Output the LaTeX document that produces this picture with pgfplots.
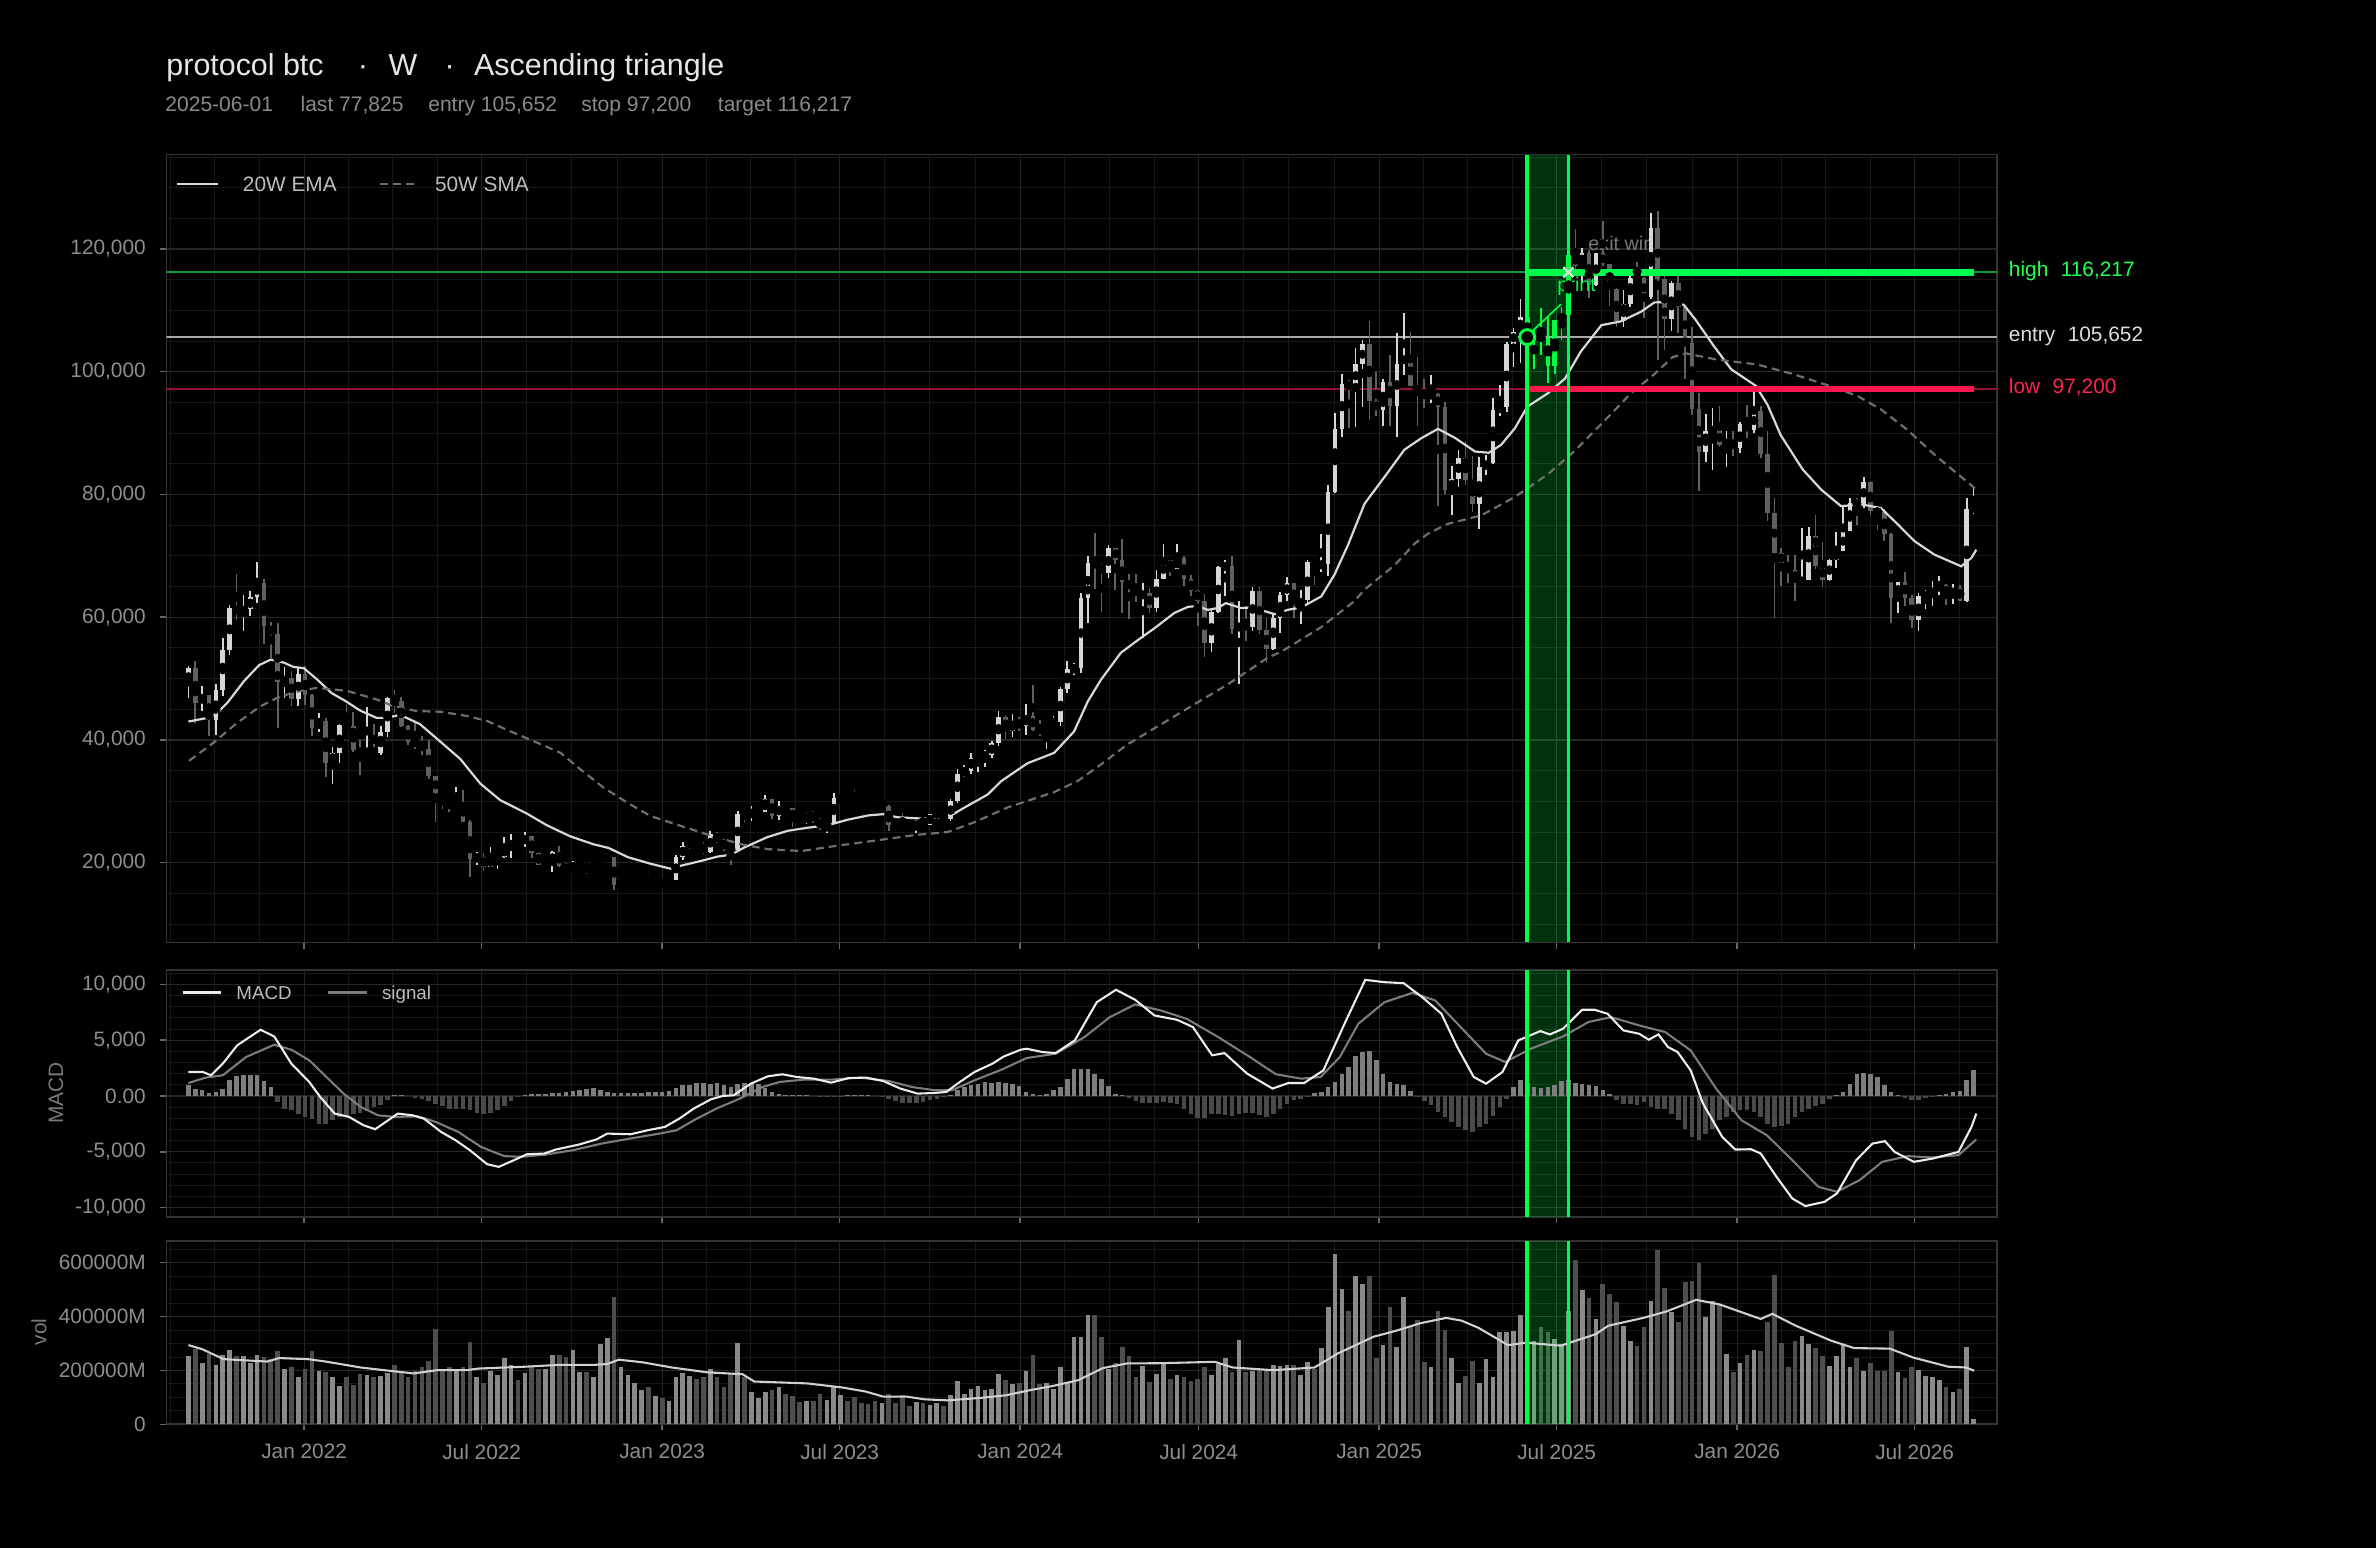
\documentclass[border=0pt]{standalone}
\usepackage{fontspec}
\setmainfont{Liberation Sans}
\usepackage{pgfplots}
\usepackage{pgfplotstable}
\pgfplotsset{compat=1.18}
\newcommand\fs[1]{\fontsize{#1}{#1}\selectfont}
\definecolor{upc}{HTML}{D6D6D6}
\definecolor{dnc}{HTML}{606060}
\definecolor{grn}{HTML}{00FF44}
\definecolor{hithin}{HTML}{0E9A38}
\definecolor{lothin}{HTML}{940F31}
\definecolor{hithick}{HTML}{00FF4C}
\definecolor{lothick}{HTML}{F5184C}
\definecolor{entryc}{HTML}{A8A8A8}
\definecolor{emac}{HTML}{D8D8D8}
\definecolor{smac}{HTML}{6E6E6E}
\definecolor{macdc}{HTML}{EDEDED}
\definecolor{sigc}{HTML}{7C7C7C}
\definecolor{hpos}{HTML}{7E7E7E}
\definecolor{hneg}{HTML}{4A4A4A}
\definecolor{vup}{HTML}{8A8A8A}
\definecolor{vdn}{HTML}{4E4E4E}
\definecolor{vmac}{HTML}{D0D0D0}
\definecolor{gridmaj}{HTML}{262626}
\definecolor{gridmin}{HTML}{181818}
\definecolor{framec}{HTML}{333333}
\definecolor{tickc}{HTML}{666666}
\definecolor{labc}{HTML}{8E8E8E}
\definecolor{titlec}{HTML}{E6E6E6}
\definecolor{subc}{HTML}{8A8A8A}
\definecolor{legc}{HTML}{BDBDBD}
\definecolor{hilab}{HTML}{22FF55}
\definecolor{lolab}{HTML}{FF2250}
\definecolor{enlab}{HTML}{DDDDDD}
\definecolor{exitc}{HTML}{7A7A7A}
\definecolor{xmk}{HTML}{DDDDDD}

\pgfplotsset{
  panel/.style={
    scale only axis, width=878.6pt,
    xmin=-20.2, xmax=246.4,
    scaled y ticks=false, scaled x ticks=false,
    axis line style={draw=framec, line width=0.9pt},
    tick pos=left, tick align=outside,
    major tick length=2.9pt, minor tick length=0pt,
    tick style={draw=tickc, line width=0.7pt},
    grid=both,
    major grid style={draw=gridmaj, line width=0.55pt},
    minor grid style={draw=gridmin, line width=0.45pt},
    xtick={-0.143,25.714,52,77.857,104.143,130.143,156.429,182.286,208.571,234.429},
    minor xtick={-19.64,-13.14,-6.64,6.32,12.79,19.25,32.29,38.86,45.43,58.46,64.93,71.39,84.43,91.0,97.57,110.64,117.14,123.64,136.71,143.29,149.86,162.89,169.36,175.82,188.86,195.43,202.0,215.04,221.5,227.96,240.93},
    tick label style={font=\fs{10}, text=labc},
    yticklabel style={xshift=-3.5pt},
    xticklabel style={yshift=-3pt},
  },
  wick/.style={only marks, mark=none, error bars/.cd, y dir=both, y explicit, error mark=none,
    error bar style={draw=#1, line width=0.8pt}},
  body/.style={only marks, mark=none, error bars/.cd, y dir=both, y explicit, error mark=none,
    error bar style={draw=#1, line width=2.2pt}},
}
\tikzset{txt/.style={inner sep=0pt, outer sep=0pt, anchor=base west}}

% week index k: 0 = week ending Sun 2 Jan 2022; prices in thousands; v in 1000M
\pgfplotstableread{
k o h l c v m
-17 48.8 52.0 46.9 51.8 255 950
-16 51.8 52.9 42.8 46.0 279 650
-15 46.0 48.8 44.7 47.3 226 550
-14 47.3 47.4 40.6 43.2 261 300
-13 43.2 49.2 40.8 48.2 221 350
-12 48.2 56.6 47.1 54.7 258 650
-11 54.7 62.0 53.9 61.5 277 1400
-10 61.5 67.0 59.6 60.9 255 1750
-9 60.9 63.7 57.8 61.3 255 1850
-8 61.3 64.3 60.2 63.3 226 1850
-7 63.3 69.0 62.4 65.5 258 1900
-6 65.5 66.3 55.6 58.6 251 1300
-5 58.6 59.3 53.3 57.2 242 800
-4 57.2 59.0 42.0 49.4 273 -550
-3 49.4 51.9 46.8 50.1 206 -1150
-2 50.1 51.3 45.6 46.7 214 -1300
-1 46.7 51.9 45.6 50.8 174 -1600
0 50.8 52.0 45.7 47.3 204 -1900
1 47.3 47.5 40.6 41.9 273 -2050
2 41.9 44.4 41.3 43.1 199 -2500
3 43.1 43.5 34.0 36.3 196 -2500
4 36.3 38.9 32.9 37.9 176 -2150
5 37.9 42.6 36.2 42.4 143 -1900
6 42.4 45.8 41.7 42.2 176 -1750
7 42.2 44.5 38.0 38.4 145 -1650
8 38.4 40.0 34.3 37.7 186 -1550
9 37.7 45.4 37.5 38.4 184 -1350
10 38.4 42.6 37.6 37.8 174 -1000
11 37.8 42.3 37.6 41.3 180 -800
12 41.3 47.0 40.5 46.8 189 -400
13 46.8 48.2 44.4 46.4 221 100
14 46.4 47.0 42.1 42.2 189 100
15 42.2 42.4 39.2 39.7 174 0
16 39.7 42.9 38.6 39.4 199 -150
17 39.4 40.7 37.6 38.5 214 -300
18 38.5 40.0 33.7 34.1 236 -450
19 34.1 34.2 26.7 31.3 354 -700
20 31.3 31.4 28.7 30.3 199 -900
21 30.3 30.6 28.3 29.4 211 -1150
22 29.4 32.3 29.2 29.9 199 -1200
23 29.9 31.8 26.6 26.6 214 -1150
24 26.6 26.9 17.6 20.6 307 -1300
25 20.6 21.8 19.7 21.0 174 -1550
26 21.0 21.5 18.7 19.3 154 -1650
27 19.3 22.5 19.3 20.8 199 -1550
28 20.8 21.6 19.0 20.9 184 -1300
29 20.9 24.2 20.7 22.6 245 -900
30 22.6 24.6 20.7 23.3 221 -450
31 23.3 23.6 22.4 23.2 165 -100
32 23.2 25.0 22.6 24.3 190 100
33 24.3 24.4 20.8 21.5 214 150
34 21.5 21.8 19.6 19.6 205 200
35 19.6 20.5 19.5 19.8 207 200
36 19.8 21.9 18.5 21.8 257 250
37 21.8 22.7 19.3 19.4 257 300
38 19.4 19.9 18.3 18.8 251 350
39 18.8 20.2 18.5 19.0 277 450
40 19.0 20.5 19.0 19.4 195 500
41 19.4 19.9 18.2 19.3 195 650
42 19.3 19.7 18.9 19.6 174 700
43 19.6 21.0 19.5 20.6 298 500
44 20.6 21.5 20.1 21.0 319 350
45 21.0 21.0 15.6 16.3 472 300
46 16.3 17.2 16.1 16.3 211 250
47 16.3 16.7 15.5 16.5 184 250
48 16.5 17.4 16.1 17.1 152 250
49 17.1 17.4 16.9 17.1 128 300
50 17.1 18.4 16.6 16.8 139 350
51 16.8 17.0 16.3 16.8 106 350
52 16.8 16.9 16.4 16.6 96 350
53 16.6 17.2 16.5 17.1 87 400
54 17.1 21.2 17.1 20.9 174 700
55 20.9 23.3 20.4 22.7 189 950
56 22.7 23.8 22.3 23.7 178 1000
57 23.7 24.2 22.7 22.9 170 1150
58 22.9 23.3 21.4 21.8 174 1150
59 21.8 25.1 21.5 24.6 207 1100
60 24.6 25.0 23.2 23.5 176 1150
61 23.5 23.9 21.9 22.4 137 1000
62 22.4 22.6 19.6 22.1 186 800
63 22.1 28.4 21.9 28.0 303 1100
64 28.0 28.8 26.6 27.9 174 1200
65 27.9 29.2 26.8 28.2 120 1150
66 28.2 28.5 27.2 28.3 96 1100
67 28.3 31.0 28.2 30.3 120 750
68 30.3 30.4 27.1 27.6 129 350
69 27.6 30.0 27.0 29.3 137 150
70 29.3 29.8 28.4 28.9 112 50
71 28.9 28.9 25.8 26.9 106 100
72 26.9 27.5 26.1 26.8 84 100
73 26.8 28.2 26.3 28.1 87 50
74 28.1 28.4 26.5 27.1 87 0
75 27.1 27.3 25.4 25.8 112 -50
76 25.8 26.8 24.8 26.5 91 -100
77 26.5 31.4 26.3 30.5 137 -100
78 30.5 31.0 29.5 30.6 108 -50
79 30.6 31.4 29.8 30.3 87 50
80 30.3 31.8 29.9 30.2 102 100
81 30.2 30.4 29.5 29.9 79 100
82 29.9 29.9 28.9 29.3 75 50
83 29.3 29.9 28.7 29.1 87 0
84 29.1 30.2 28.9 29.3 81 -50
85 29.3 29.4 25.2 26.2 112 -250
86 26.2 26.6 25.8 26.0 81 -450
87 26.0 28.1 25.3 25.9 108 -600
88 25.9 26.0 25.4 25.8 68 -630
89 25.8 27.0 24.9 26.5 84 -600
90 26.5 27.4 26.0 26.2 79 -500
91 26.2 28.0 26.1 27.9 72 -380
92 27.9 28.5 27.3 27.9 81 -250
93 27.9 28.0 26.6 27.1 68 -100
94 27.1 30.4 26.8 30.0 109 100
95 30.0 35.2 29.8 34.5 161 550
96 34.5 35.9 33.9 35.0 112 800
97 35.0 37.9 34.5 37.1 133 950
98 37.1 37.9 34.8 37.4 143 1100
99 37.4 38.4 35.6 37.5 127 1250
100 37.5 39.9 37.1 39.5 132 1200
101 39.5 44.7 39.0 43.8 186 1250
102 43.8 44.0 40.2 41.4 164 1200
103 41.4 44.3 40.5 43.0 149 1050
104 43.0 43.8 41.4 42.3 153 900
105 42.3 45.9 40.8 43.9 199 350
106 43.9 49.0 41.5 41.7 257 200
107 41.7 43.2 40.6 41.6 149 100
108 41.6 42.2 38.5 42.0 154 200
109 42.0 43.9 41.9 43.0 133 500
110 43.0 48.6 42.2 48.3 211 800
111 48.3 52.8 47.7 51.6 155 1550
112 51.6 52.5 50.6 51.7 323 2400
113 51.7 64.0 50.9 63.1 323 2450
114 63.1 69.9 59.0 68.9 404 2450
115 68.9 73.8 64.6 68.4 404 2000
116 68.4 68.6 60.8 67.2 325 1550
117 67.2 71.8 66.4 71.3 205 870
118 71.3 71.3 64.5 69.4 227 200
119 69.4 72.8 60.7 65.7 288 50
120 65.7 67.0 59.7 64.9 255 -200
121 64.9 67.1 62.5 63.4 174 -450
122 63.4 65.5 56.6 63.9 217 -600
123 63.9 64.8 60.7 61.5 158 -630
124 61.5 67.7 60.9 66.3 186 -630
125 66.3 71.9 66.3 69.3 226 -540
126 69.3 69.4 66.7 67.8 170 -630
127 67.8 71.9 67.8 69.6 184 -740
128 69.6 70.0 65.1 66.2 174 -1130
129 66.2 66.9 63.4 64.3 161 -1640
130 64.3 64.5 58.5 62.7 170 -1940
131 62.7 63.8 53.5 55.8 211 -1940
132 55.8 61.2 54.3 60.8 184 -1640
133 60.8 68.4 60.7 68.2 224 -1580
134 68.2 69.4 63.4 68.3 248 -1730
135 68.3 70.0 57.2 58.1 193 -1820
136 58.1 62.7 49.1 58.7 314 -1640
137 58.7 61.8 56.2 58.4 193 -1520
138 58.4 65.0 57.8 64.2 199 -1520
139 64.2 64.9 57.2 58.0 202 -1730
140 58.0 59.8 52.6 54.8 201 -1880
141 54.8 60.6 54.6 59.9 221 -1580
142 59.9 64.1 57.5 63.6 217 -1130
143 63.6 66.5 62.7 65.6 220 -690
144 65.6 65.6 59.8 62.0 220 -390
145 62.0 64.4 58.9 62.8 184 -240
146 62.8 69.4 62.0 69.0 232 -50
147 69.0 69.5 65.3 68.4 205 270
148 68.4 73.6 67.4 68.7 282 360
149 68.7 81.5 66.8 80.4 435 800
150 80.4 93.3 80.3 90.6 631 1250
151 90.6 99.6 89.4 98.0 501 2000
152 98.0 98.7 90.8 97.5 419 2590
153 97.5 103.9 91.0 101.2 549 3550
154 101.2 105.1 94.3 104.5 519 3930
155 104.5 108.3 92.2 95.2 549 4020
156 95.2 99.9 92.8 93.7 248 3190
157 93.7 98.8 91.2 98.3 294 2000
158 98.3 102.7 91.2 94.5 437 1250
159 94.5 106.3 89.3 101.3 288 1100
160 101.3 109.6 99.5 102.6 472 950
161 102.6 106.5 97.7 97.7 360 450
162 97.7 102.4 91.2 96.5 388 -100
163 96.5 98.8 94.1 96.1 230 -450
164 96.1 99.5 94.9 96.3 211 -840
165 96.3 96.5 78.2 94.2 422 -1430
166 94.2 95.0 80.1 80.7 351 -1900
167 80.7 84.7 76.6 82.6 245 -2320
168 82.6 87.3 81.2 86.0 153 -2770
169 86.0 88.8 81.6 82.4 180 -3070
170 82.4 86.3 77.1 78.4 236 -3220
171 78.4 86.1 74.4 84.5 153 -2770
172 84.5 86.4 83.2 85.1 243 -2470
173 85.1 95.8 84.9 93.7 176 -1800
174 93.7 97.9 92.8 94.3 344 -980
175 94.3 104.9 93.4 104.6 344 -300
176 104.6 107.1 100.7 106.5 345 800
177 106.5 111.9 101.5 109.0 407 1400
178 109.0 110.6 103.1 105.6 311 1160
179 105.6 106.8 100.4 105.7 311 800
180 105.7 110.4 102.7 105.5 360 750
181 105.5 108.9 98.2 101.0 344 800
182 101.0 108.5 99.6 108.4 317 1000
183 108.4 110.5 105.1 109.2 298 1340
184 109.2 119.5 107.5 119.1 422 1460
185 119.1 123.2 115.7 117.3 609 1200
186 117.3 120.2 114.7 119.4 497 1040
187 119.4 119.8 112.0 114.2 468 950
188 114.2 119.4 114.0 119.3 391 860
189 119.3 124.5 117.2 117.5 519 500
190 117.5 117.6 110.7 113.5 482 210
191 113.5 113.6 107.3 108.2 453 -390
192 108.2 113.3 107.3 111.1 366 -690
193 111.1 116.8 110.6 115.3 308 -690
194 115.3 117.9 114.8 115.2 292 -830
195 115.2 115.5 108.7 112.2 360 -540
196 112.2 125.8 111.8 123.5 456 -980
197 123.5 126.2 102.0 115.1 646 -1130
198 115.1 116.0 103.5 108.6 507 -1130
199 108.6 114.8 106.7 114.5 415 -1600
200 114.5 116.4 106.3 110.6 379 -2180
201 110.6 110.8 98.9 104.7 528 -3000
202 104.7 107.3 93.0 94.0 532 -3670
203 94.0 96.6 80.6 86.9 600 -3960
204 86.9 93.1 85.3 90.4 400 -3370
205 90.4 94.1 84.0 90.5 456 -2920
206 90.5 94.5 87.7 88.1 441 -2120
207 88.1 90.3 84.5 88.6 261 -1880
208 88.6 90.3 86.3 87.6 196 -1430
209 87.6 91.8 86.8 91.5 229 -1280
210 91.5 94.6 89.2 90.5 257 -1280
211 90.5 97.4 90.0 93.6 276 -1430
212 93.6 94.5 86.0 86.6 271 -1880
213 86.6 90.3 75.6 77.0 381 -2470
214 77.0 79.4 59.9 70.4 553 -2770
215 70.4 71.3 65.1 68.9 302 -2710
216 68.9 70.1 65.6 67.7 214 -2470
217 67.7 70.1 62.6 65.8 311 -1880
218 65.8 74.6 65.7 66.0 328 -1430
219 66.0 74.7 66.0 73.3 298 -1130
220 73.3 76.7 67.9 68.4 283 -900
221 68.4 72.3 64.9 66.0 253 -690
222 66.0 69.5 65.9 69.3 217 -300
223 69.3 73.9 68.0 70.8 255 100
224 70.8 78.3 70.8 74.0 298 360
225 74.0 79.4 74.0 78.6 214 1100
226 78.6 79.4 75.1 78.4 248 2000
227 78.4 82.8 77.8 82.1 199 2060
228 82.1 82.2 76.7 77.3 226 2000
229 77.3 77.4 74.2 77.1 199 1700
230 77.1 77.6 72.5 73.6 199 950
231 73.6 73.8 59.0 63.2 348 360
232 63.2 65.8 60.7 65.8 195 100
233 65.8 67.3 61.8 63.1 173 -200
234 63.1 63.7 58.2 59.6 211 -390
235 59.6 64.0 57.8 63.4 201 -330
236 63.4 64.5 61.3 63.7 180 -180
237 63.7 65.9 61.8 64.5 176 -50
238 64.5 66.7 63.7 65.3 164 60
239 65.3 65.4 62.0 63.4 137 150
240 63.4 65.4 62.1 64.8 120 360
241 64.8 65.2 62.6 62.7 130 420
242 62.7 79.4 62.5 77.7 288 1400
243 77.7 81.2 76.9 77.825 19 2290
}\candles

\pgfplotstableread{
x y
-17 43.0
-14.2 43.6
-13 44.2
-11.3 46.1
-8.9 49.6
-6.7 52.2
-5 53.1
-3.1 52.6
-1.7 51.9
-0.2 51.7
1.7 49.9
3.9 47.6
5.8 46.4
8 44.8
10.4 43.6
11.9 43.6
13.8 44.1
16.7 42.6
19.2 40.2
22.6 36.9
25.5 32.9
28.4 30.2
32.3 28.0
35.2 26.1
38.6 24.3
42 23.0
44.2 22.4
47 20.9
50.4 19.8
53.3 19.0
54.7 19.5
57.7 20.3
60.1 21.0
62 21.3
64 22.5
67.4 24.2
70.3 25.2
73.2 25.7
76.1 26.1
79 27.0
82 27.7
84.1 27.9
86.3 27.4
89.7 27.2
93.6 27.4
95.6 28.7
97 29.6
99.4 31.1
101.4 33.3
105.2 36.2
109.1 37.9
112 41.4
114 46.3
115.9 49.8
118.8 54.2
121.8 56.7
123.7 58.2
126.6 60.7
128.6 61.7
130 61.8
131.5 61.2
132.9 61.5
134.1 62.3
136.3 61.5
138.3 61.6
139.7 61.0
141.2 60.5
143.1 61.2
145.1 61.6
148 63.4
149.9 66.9
151.9 71.8
154.3 78.5
157.3 83.0
160.1 87.3
162.6 89.2
165 90.7
167.5 89.2
170.4 87.0
172.4 86.8
174.2 88.1
176.2 90.8
178 94.3
181 96.5
183.5 98.9
185.8 103.3
188.8 107.6
191.6 108.2
194.6 109.8
196.5 111.3
199.4 111.4
200.8 110.9
202.5 108.5
205.1 104.3
207.7 100.4
211.3 97.7
213 94.6
214.9 89.7
218.1 84.1
220.8 80.8
223.7 78.1
226.6 78.4
229.5 77.8
232 75.1
234.4 72.4
237.3 70.2
241.2 68.3
242.7 69.7
243.4 71.0
}\ema

\pgfplotstableread{
x y
-16.9 36.6
-13.3 39.6
-9.9 42.8
-6.5 45.5
-3.6 47.1
-0.7 48.0
1.7 48.5
6.1 48.0
10.4 46.6
12.9 45.5
16.3 44.7
19.7 44.6
23.6 43.9
26.5 43.1
29.9 41.4
33.3 39.8
37.2 37.9
40.1 35.2
43.5 32.2
46.9 29.8
50.3 27.6
54.7 26.0
58.6 24.6
63.5 23.0
67.4 22.2
72.3 21.9
77.1 22.7
83 23.6
88.8 24.5
93.6 25.0
97.5 26.6
102.3 29.0
105 30.0
109.1 31.5
112.5 33.3
115.9 36.0
119.8 39.3
124.6 42.5
129.5 45.8
134.3 49.0
140.2 53.4
142.2 54.4
147 57.7
148 58.4
152.8 62.6
154.3 64.5
158.7 68.5
161.6 72.0
163.5 73.6
166.4 75.2
171.3 76.6
176.2 79.6
181 83.3
184.9 87.1
188.8 91.5
193.2 96.6
196.5 99.6
199.2 102.4
201.1 103.0
205.5 102.0
211.4 101.2
216.5 99.7
222.3 97.6
226.2 96.0
229.6 93.8
233.4 90.5
237.3 86.5
243.2 81.0
}\sma

\pgfplotstableread{
x y
-17 2150
-14.9 2150
-13.7 1850
-12 2890
-9.9 4530
-6.5 5930
-4.5 5330
-2 2890
0.6 1250
2.2 -90
4.3 -1580
6.4 -1880
8.5 -2620
10.2 -2980
11.4 -2470
13.5 -1580
15.6 -1730
17.3 -2030
19.8 -3220
21.9 -3960
24 -4860
26.5 -6110
28.2 -6350
30.2 -5810
32.3 -5220
34.8 -5160
36.5 -4800
39.9 -4350
42.4 -3900
44 -3370
47.4 -3430
49.9 -3070
52.4 -2770
54.5 -2030
56.6 -1130
59.1 -300
60.8 0
62.4 60
64.9 1100
67.4 1760
69.5 1940
71.6 1700
74.1 1550
76.6 1190
79.2 1610
81.7 1640
84.2 1340
86.7 660
89.2 210
91.7 270
93.4 360
95 1100
97.5 2150
100.1 2890
101.7 3520
104.2 4140
105.1 4230
107.4 3930
109.3 3840
112.1 4980
115.3 8400
118.1 9510
120.9 8610
123.7 7210
127 6820
129.3 6170
132.1 3640
133.9 3840
137.2 2000
140.9 660
143.2 1160
145.5 1160
148.3 2290
151.6 6760
154.4 10400
157.2 10190
160 10100
162.7 8850
165.5 7360
167.8 4380
170.2 1700
172 1100
174.4 2150
176.7 4980
179.9 5810
181.3 5510
183.2 6020
186 7720
187.8 7720
189.7 7360
192 5870
194.3 5570
195.7 5040
197.1 5510
198.5 4380
199.9 3930
201.8 2290
203.6 -690
206.4 -3670
208.3 -4800
210.6 -4770
212 -5160
214.3 -7240
216.6 -9180
218.5 -9860
221.3 -9480
223.1 -8730
225.9 -5750
228.3 -4260
230.1 -4050
231.5 -5010
234.3 -5900
237.1 -5600
240.8 -5010
242.7 -2770
243.4 -1580
}\macd

\pgfplotstableread{
x y
-17 1160
-14.5 1640
-12 1850
-8.6 3490
-4.5 4590
-2 4140
0.6 3190
3.1 1700
5.6 210
8.1 -980
10.6 -1730
13.1 -1880
16.4 -1820
19 -2320
22.3 -3220
25.6 -4560
29 -5390
31.5 -5450
34.8 -5270
39 -4860
43.2 -4260
47.4 -3810
51.6 -3370
54.1 -3070
56.6 -2180
59.9 -1130
63.3 -240
66.6 800
69.1 1250
72.5 1460
76.6 1460
80.8 1640
85 1340
88.4 800
91.7 510
94.2 510
97.5 1400
101.6 2400
105.1 3400
109.3 3780
113.5 5270
117.2 7060
120.9 8200
124.6 7660
128.4 6910
133 5270
137.6 3490
141.4 1940
145.1 1550
147.9 1700
150.7 3490
153.4 6470
157.2 8400
161.3 9240
164.6 8550
168.3 6170
172 3780
174.8 3040
178.5 4230
183.2 5330
186.9 6620
190.2 7060
194.3 6320
198.1 5720
201.8 4080
205.5 660
209.2 -2180
212.9 -3520
216.6 -5750
220.4 -8140
223.1 -8580
226.4 -7540
229.7 -5900
233.4 -5390
237.1 -5510
240.8 -5300
243.4 -3900
}\sig

\pgfplotstableread{
x y
-17 294
-15 279
-11.9 242
-5.5 233
-3.8 246
0.4 242
3 233
8.1 211
11.5 201
15.8 189
19.2 201
23.5 201
25.2 207
32.1 214
37.2 221
42.3 221
44 224
45.7 240
49.2 230
53.4 211
58.6 193
63.7 186
65.4 159
73.1 152
78.2 137
81.6 122
84.2 103
87.6 103
90.2 93
93.6 89
98.7 99
102.1 108
105.6 127
109 143
112.6 164
116.2 209
119.7 226
124.8 227
132.5 232
135.1 211
141 201
147 211
150.4 263
155.6 325
159 348
162.4 375
166.2 395
168.4 385
170.9 358
175.2 294
177.8 303
182.9 292
188 335
189.8 366
194.9 395
198.3 419
202.6 462
206 445
212 391
213.7 410
217.1 366
222.2 311
225.6 283
230.8 281
234.2 248
239.3 214
241.9 211
243.1 199
}\volma

\begin{document}
\begin{tikzpicture}[x=1pt,y=1pt]
\fill[black] (0pt,0pt) rectangle (1140.48pt,-743.04pt);

% ================= MAIN PRICE PANEL =================
\begin{axis}[panel, at={(79.9pt,-74.2pt)}, anchor=north west, height=378.2pt,
  ymin=7.0, ymax=135.4,
  ytick={20,40,60,80,100,120},
  yticklabels={{20,000},{40,000},{60,000},{80,000},{100,000},{120,000}},
  minor ytick={10,15,25,30,35,45,50,55,65,70,75,85,90,95,105,110,115,125,130,135},
  xticklabels={},
]
\addplot[draw=none, fill=grn, fill opacity=0.2] coordinates {(178,7) (184,7) (184,135.4) (178,135.4)};
\addplot[hithin, line width=1pt] coordinates {(-20.2,116.217) (246.4,116.217)};
\addplot[entryc, line width=0.75pt] coordinates {(-20.2,105.652) (246.4,105.652)};
\addplot[lothin, line width=1pt] coordinates {(-20.2,97.2) (246.4,97.2)};
\node[txt, text=exitc, font=\fs{9.5}] at (axis cs:186.9,119.7) {exit win};
% up candles
\addplot[wick=upc] table[x=k, y expr={(\thisrow{c}<\thisrow{o}) ? -500 : (\thisrow{h}+\thisrow{l})/2}, y error expr={(\thisrow{h}-\thisrow{l})/2}] {\candles};
\addplot[body=upc] table[x=k, y expr={(\thisrow{c}<\thisrow{o}) ? -500 : (\thisrow{o}+\thisrow{c})/2}, y error expr={max(abs(\thisrow{c}-\thisrow{o})/2,0.13)}] {\candles};
% down candles
\addplot[wick=dnc] table[x=k, y expr={(\thisrow{c}<\thisrow{o}) ? (\thisrow{h}+\thisrow{l})/2 : -500}, y error expr={(\thisrow{h}-\thisrow{l})/2}] {\candles};
\addplot[body=dnc] table[x=k, y expr={(\thisrow{c}<\thisrow{o}) ? (\thisrow{o}+\thisrow{c})/2 : -500}, y error expr={max(abs(\thisrow{c}-\thisrow{o})/2,0.13)}] {\candles};
% green window candles
\addplot[restrict x to domain=177.5:184.5, wick=grn] table[x=k, y expr={(\thisrow{h}+\thisrow{l})/2}, y error expr={(\thisrow{h}-\thisrow{l})/2}] {\candles};
\addplot[restrict x to domain=177.5:184.5, body=grn] table[x=k, y expr={(\thisrow{o}+\thisrow{c})/2}, y error expr={max(abs(\thisrow{c}-\thisrow{o})/2,0.13)}] {\candles};
% moving averages
\addplot[emac, line width=1.05pt] table {\ema};
\addplot[smac, line width=1.05pt, dash pattern=on 3.8pt off 2.4pt] table {\sma};
% levels
\addplot[hithick, line width=3.2pt] coordinates {(178,116.217) (243.1,116.217)};
\addplot[lothick, line width=3.2pt] coordinates {(178,97.2) (243.1,97.2)};
\addplot[grn, line width=2.1pt] coordinates {(178,7) (178,135.4)};
\addplot[grn, line width=1pt] coordinates {(184,7) (184,135.4)};
\addplot[grn, line width=0.8pt] coordinates {(178.9,106.8) (182.9,111.0)};
\addplot[only marks, mark=*, mark size=3.6pt, mark options={draw=grn, fill=black, line width=1.4pt}] coordinates {(178,105.652)};
\addplot[only marks, mark=x, mark size=3.4pt, mark options={draw=xmk, line width=1.1pt}] coordinates {(184,116.217)};
\node[txt, text=grn, font=\fs{9.5}] at (axis cs:182.4,113.1) {print};
\end{axis}

% ================= MACD PANEL =================
\begin{axis}[panel, at={(79.9pt,-465.5pt)}, anchor=north west, height=118.6pt,
  ymin=-10830, ymax=11300,
  ytick={-10000,-5000,0,5000,10000},
  yticklabels={{-10,000},{-5,000},{0.00},{5,000},{10,000}},
  minor ytick={-9000,-8000,-7000,-6000,-4000,-3000,-2000,-1000,1000,2000,3000,4000,6000,7000,8000,9000,11000},
  xticklabels={},
]
\addplot[draw=none, fill=grn, fill opacity=0.2] coordinates {(178,-10830) (184,-10830) (184,11300) (178,11300)};
\addplot[ycomb, draw=hpos, line width=2.2pt] table[x=k, y expr={(\thisrow{m}>0) ? \thisrow{m} : 0}] {\candles};
\addplot[ycomb, draw=hneg, line width=2.2pt] table[x=k, y expr={(\thisrow{m}<0) ? \thisrow{m} : 0}] {\candles};
\addplot[sigc, line width=1pt] table {\sig};
\addplot[macdc, line width=1pt] table {\macd};
\addplot[grn, line width=2.1pt] coordinates {(178,-10830) (178,11300)};
\addplot[grn, line width=1pt] coordinates {(184,-10830) (184,11300)};
\end{axis}

% ================= VOLUME PANEL =================
\begin{axis}[panel, at={(79.9pt,-595.7pt)}, anchor=north west, height=88pt,
  ymin=0, ymax=680,
  ytick={0,200,400,600},
  yticklabels={0,200000M,400000M,600000M},
  minor ytick={50,100,150,250,300,350,450,500,550,650},
  xticklabels={Jan 2022,Jul 2022,Jan 2023,Jul 2023,Jan 2024,Jul 2024,Jan 2025,Jul 2025,Jan 2026,Jul 2026},
]
\addplot[ycomb, draw=vup, line width=2.25pt] table[x=k, y expr={(\thisrow{c}<\thisrow{o}) ? 0 : \thisrow{v}}] {\candles};
\addplot[ycomb, draw=vdn, line width=2.25pt] table[x=k, y expr={(\thisrow{c}<\thisrow{o}) ? \thisrow{v} : 0}] {\candles};
\addplot[draw=none, fill=grn, fill opacity=0.2] coordinates {(178,0) (184,0) (184,680) (178,680)};
\addplot[vmac, line width=1pt] table {\volma};
\addplot[grn, line width=2.1pt] coordinates {(178,0) (178,680)};
\addplot[grn, line width=1pt] coordinates {(184,0) (184,680)};
\end{axis}

% ================= TEXT =================
\node[txt, text=titlec, font=\fs{14.6}] at (79.9pt,-36.3pt) {protocol btc};
\node[txt, text=titlec, font=\fs{14.6}] at (171.8pt,-36.3pt) {·};
\node[txt, text=titlec, font=\fs{14.6}] at (186.5pt,-36.3pt) {W};
\node[txt, text=titlec, font=\fs{14.6}] at (213.4pt,-36.3pt) {·};
\node[txt, text=titlec, font=\fs{14.6}] at (227.6pt,-36.3pt) {Ascending triangle};

\node[txt, text=subc, font=\fs{10.1}] at (79.4pt,-53.3pt) {2025-06-01};
\node[txt, text=subc, font=\fs{10.1}] at (144.3pt,-53.3pt) {last 77,825};
\node[txt, text=subc, font=\fs{10.1}] at (205.6pt,-53.3pt) {entry 105,652};
\node[txt, text=subc, font=\fs{10.1}] at (279.0pt,-53.3pt) {stop 97,200};
\node[txt, text=subc, font=\fs{10.1}] at (344.6pt,-53.3pt) {target 116,217};

% legends
\draw[emac, line width=1.2pt] (85.0pt,-88.3pt) -- (104.5pt,-88.3pt);
\node[txt, text=legc, font=\fs{10}] at (116.6pt,-92.0pt) {20W EMA};
\draw[smac, line width=1.2pt, dash pattern=on 3.8pt off 2.4pt] (182.4pt,-88.3pt) -- (199.4pt,-88.3pt);
\node[txt, text=legc, font=\fs{10}] at (208.8pt,-92.0pt) {50W SMA};

\draw[macdc, line width=1.2pt] (87.8pt,-476.5pt) -- (106.3pt,-476.5pt);
\node[txt, text=legc, font=\fs{9}] at (113.5pt,-479.7pt) {MACD};
\draw[sigc, line width=1.2pt] (157.4pt,-476.5pt) -- (176.2pt,-476.5pt);
\node[txt, text=legc, font=\fs{9}] at (183.4pt,-479.7pt) {signal};

% axis titles
\node[rotate=90, text=exitc, font=\fs{10}] at (26.9pt,-524.6pt) {MACD};
\node[rotate=90, text=exitc, font=\fs{10}] at (18.7pt,-639.4pt) {vol};

% level labels
\node[txt, text=hilab, font=\fs{10}] at (964.3pt,-132.8pt) {high\hspace{6pt}116,217};
\node[txt, text=enlab, font=\fs{10}] at (964.3pt,-163.9pt) {entry\hspace{6pt}105,652};
\node[txt, text=lolab, font=\fs{10}] at (964.3pt,-188.8pt) {low\hspace{6pt}97,200};

\pgfresetboundingbox
\useasboundingbox (0pt,0pt) rectangle (1140.48pt,-743.04pt);
\end{tikzpicture}
\end{document}
